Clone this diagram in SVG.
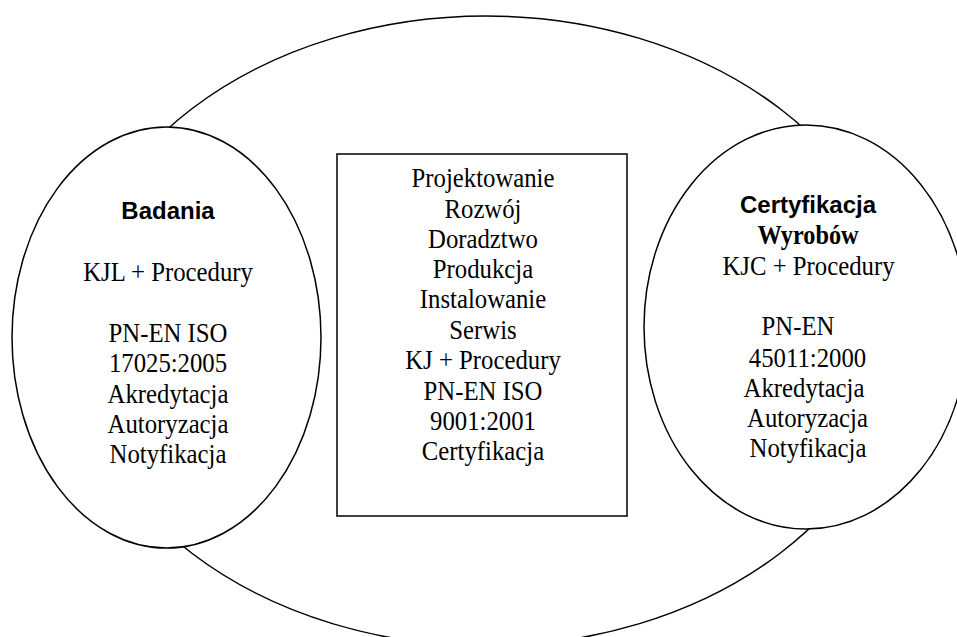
<svg xmlns="http://www.w3.org/2000/svg" width="957" height="637" viewBox="0 0 957 637">
<style>
.shape{fill:#fff;stroke:#000;stroke-width:1.5}
.t{font-family:"Liberation Serif","Times New Roman",serif;font-size:27.5px;fill:#000;text-anchor:middle}
.h{font-family:"Liberation Sans",Arial,sans-serif;font-size:24px;font-weight:bold;fill:#000;text-anchor:middle}
.hb{font-family:"Liberation Serif","Times New Roman",serif;font-size:27px;font-weight:bold;fill:#000;text-anchor:middle}
</style>
<rect width="957" height="637" fill="#fff"/>
<g id="outer"><ellipse class="shape" cx="486" cy="331" rx="415" ry="315"/></g>
<g id="badania">
<ellipse class="shape" cx="166.5" cy="337.5" rx="154.5" ry="210.5"/>
<text class="h" x="168" y="219">Badania</text>
<text class="t" transform="translate(168 281) scale(0.9 1)">KJL + Procedury</text>
<text class="t" transform="translate(168 342) scale(0.9 1)">PN-EN ISO</text>
<text class="t" transform="translate(168 372) scale(0.9 1)">17025:2005</text>
<text class="t" transform="translate(168 403) scale(0.9 1)">Akredytacja</text>
<text class="t" transform="translate(168 433) scale(0.9 1)">Autoryzacja</text>
<text class="t" transform="translate(168 463) scale(0.9 1)">Notyfikacja</text>
</g>
<g id="centrum">
<rect class="shape" x="337" y="154" width="290" height="362"/>
<text class="t" transform="translate(483 187) scale(0.9 1)">Projektowanie</text>
<text class="t" transform="translate(483 217.5) scale(0.9 1)">Rozwój</text>
<text class="t" transform="translate(483 248) scale(0.9 1)">Doradztwo</text>
<text class="t" transform="translate(483 278) scale(0.9 1)">Produkcja</text>
<text class="t" transform="translate(483 308) scale(0.9 1)">Instalowanie</text>
<text class="t" transform="translate(483 338.5) scale(0.9 1)">Serwis</text>
<text class="t" transform="translate(483 369) scale(0.9 1)">KJ + Procedury</text>
<text class="t" transform="translate(483 399.5) scale(0.9 1)">PN-EN ISO</text>
<text class="t" transform="translate(483 430) scale(0.9 1)">9001:2001</text>
<text class="t" transform="translate(483 460) scale(0.9 1)">Certyfikacja</text>
</g>
<g id="certyfikacja">
<ellipse class="shape" cx="806" cy="327" rx="162" ry="202"/>
<text class="h" x="808" y="213">Certyfikacja</text>
<text class="hb" transform="translate(808 244) scale(0.9 1)">Wyrobów</text>
<text class="t" transform="translate(808.5 275) scale(0.9 1)">KJC + Procedury</text>
<text class="t" transform="translate(798 335) scale(0.9 1)">PN-EN</text>
<text class="t" transform="translate(807.5 367) scale(0.9 1)">45011:2000</text>
<text class="t" transform="translate(804 397) scale(0.9 1)">Akredytacja</text>
<text class="t" transform="translate(807.5 427) scale(0.9 1)">Autoryzacja</text>
<text class="t" transform="translate(808 457) scale(0.9 1)">Notyfikacja</text>
</g>
<g id="connectors"></g>
</svg>
